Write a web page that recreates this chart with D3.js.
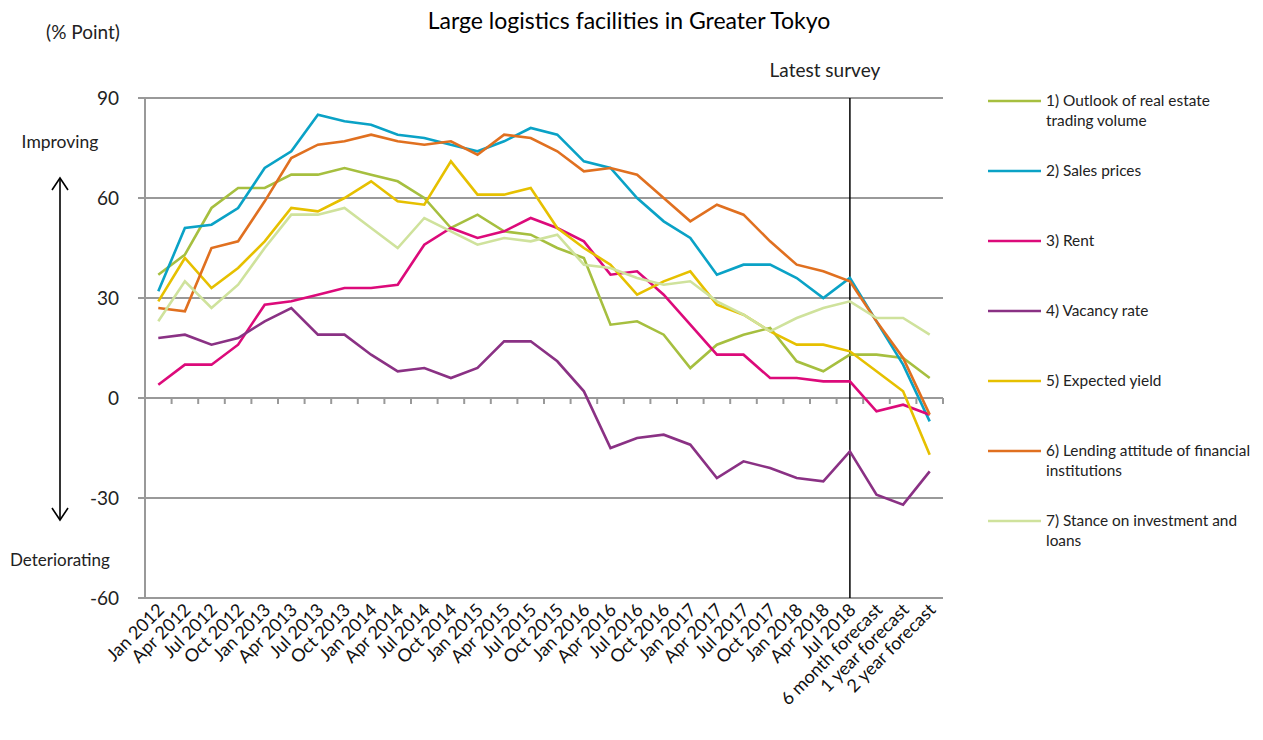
<!DOCTYPE html>
<html>
<head>
<meta charset="utf-8">
<script src="https://cdn.jsdelivr.net/npm/d3@7"></script>
<style>
  body { margin: 0; background: #fff; }
  svg { display: block; font-family: Lato, "Open Sans", sans-serif; }
</style>
</head>
<body>
<div id="chart"></div>
<script>
const categories = ["Jan 2012","Apr 2012","Jul 2012","Oct 2012","Jan 2013","Apr 2013","Jul 2013","Oct 2013",
  "Jan 2014","Apr 2014","Jul 2014","Oct 2014","Jan 2015","Apr 2015","Jul 2015","Oct 2015",
  "Jan 2016","Apr 2016","Jul 2016","Oct 2016","Jan 2017","Apr 2017","Jul 2017","Oct 2017",
  "Jan 2018","Apr 2018","Jul 2018","6 month forecast","1 year forecast","2 year forecast"];

const outlook  = [37,43,57,63,63,67,67,69,67,65,60,51,55,50,49,45,42,22,23,19,9,16,19,21,11,8,13,13,12,6];
const sales    = [32,51,52,57,69,74,85,83,82,79,78,76,74,77,81,79,71,69,60,53,48,37,40,40,36,30,36,23,10,-7];
const rent     = [4,10,10,16,28,29,31,33,33,34,46,51,48,50,54,51,47,37,38,31,22,13,13,6,6,5,5,-4,-2,-5];
const vacancy  = [18,19,16,18,23,27,19,19,13,8,9,6,9,17,17,11,2,-15,-12,-11,-14,-24,-19,-21,-24,-25,-16,-29,-32,-22];
const yieldExp = [29,42,33,39,47,57,56,60,65,59,58,71,61,61,63,51,45,40,31,35,38,28,25,20,16,16,14,8,2,-17];
const lending  = [27,26,45,47,59,72,76,77,79,77,76,77,73,79,78,74,68,69,67,60,53,58,55,47,40,38,35,23,12,-5];
const stance   = [23,35,27,34,45,55,55,57,51,45,54,50,46,48,47,49,40,39,36,34,35,29,25,20,24,27,29,24,24,19];

const seriesNames = [
  ["1) Outlook of real estate", "trading volume"],
  ["2) Sales prices"],
  ["3) Rent"],
  ["4) Vacancy rate"],
  ["5) Expected yield"],
  ["6) Lending attitude of financial", "institutions"],
  ["7) Stance on investment and", "loans"]
];
const yTicks = [90, 60, 30, 0, -30, -60];
const latestSurvey = "Jul 2018";

const colors = ["#a6bf3f", "#0aa2c6", "#dc0a7a", "#8a3184", "#e6c000", "#e07020", "#cfe29c"];
const allSeries = [outlook, sales, rent, vacancy, yieldExp, lending, stance];

const width = 1263, height = 740;
const margin = {left: 145, right: 320, top: 98, bottom: 142};

const svg = d3.select("#chart").append("svg")
  .attr("width", width)
  .attr("height", height);

const x = d3.scaleBand()
  .domain(categories)
  .range([margin.left, width - margin.right]);

const y = d3.scaleLinear()
  .domain([-60, 90])
  .range([height - margin.bottom, margin.top]);

const cx = d => x(d) + x.bandwidth() / 2;

// gridlines
svg.append("g")
  .selectAll("line")
  .data(yTicks)
  .join("line")
    .attr("x1", margin.left - 7)
    .attr("x2", width - margin.right)
    .attr("y1", d => y(d))
    .attr("y2", d => y(d))
    .attr("stroke", "#999")
    .attr("stroke-width", 2);

// left axis line
svg.append("line")
  .attr("x1", margin.left).attr("x2", margin.left)
  .attr("y1", y(90)).attr("y2", y(-60))
  .attr("stroke", "#999").attr("stroke-width", 2);

// category ticks on zero line
svg.append("g")
  .selectAll("line")
  .data(d3.range(1, categories.length + 1))
  .join("line")
    .attr("x1", i => margin.left + i * x.step())
    .attr("x2", i => margin.left + i * x.step())
    .attr("y1", y(0))
    .attr("y2", y(0) + 6)
    .attr("stroke", "#999")
    .attr("stroke-width", 2);

// y tick labels
svg.append("g")
  .selectAll("text")
  .data(yTicks)
  .join("text")
    .attr("x", 119)
    .attr("y", d => y(d))
    .attr("dy", "0.35em")
    .attr("text-anchor", "end")
    .attr("font-size", 19)
    .attr("fill", "#222")
    .text(d => d);

// x labels
svg.append("g")
  .selectAll("text")
  .data(categories)
  .join("text")
    .attr("text-anchor", "end")
    .attr("font-size", 18)
    .attr("fill", "#111")
    .attr("transform", d => `translate(${cx(d) + 7},${y(-60) + 13}) rotate(-45)`)
    .text(d => d);

// latest survey line
svg.append("line")
  .attr("x1", cx(latestSurvey)).attr("x2", cx(latestSurvey))
  .attr("y1", y(90)).attr("y2", y(-60))
  .attr("stroke", "#000").attr("stroke-width", 1.5);

svg.append("text")
  .attr("x", cx(latestSurvey) - 25)
  .attr("y", 77)
  .attr("text-anchor", "middle")
  .attr("font-size", 19)
  .attr("fill", "#222")
  .text("Latest survey");

// series lines
const line = d3.line()
  .x((d, i) => cx(categories[i]))
  .y(d => y(d));

svg.append("g")
  .selectAll("path")
  .data(allSeries)
  .join("path")
    .attr("d", line)
    .attr("fill", "none")
    .attr("stroke", (d, i) => colors[i])
    .attr("stroke-width", 2.6)
    .attr("stroke-linejoin", "miter");

// title and unit
svg.append("text")
  .attr("x", 629).attr("y", 29)
  .attr("text-anchor", "middle")
  .attr("font-size", 23)
  .attr("fill", "#000")
  .text("Large logistics facilities in Greater Tokyo");

svg.append("text")
  .attr("x", 83).attr("y", 39)
  .attr("text-anchor", "middle")
  .attr("font-size", 19)
  .attr("fill", "#222")
  .text("(% Point)");

// improving / deteriorating arrow
svg.append("text")
  .attr("x", 60).attr("y", 148)
  .attr("text-anchor", "middle")
  .attr("font-size", 17.5)
  .attr("fill", "#222")
  .text("Improving");

svg.append("text")
  .attr("x", 60).attr("y", 566)
  .attr("text-anchor", "middle")
  .attr("font-size", 17)
  .attr("fill", "#222")
  .text("Deteriorating");

const arrow = svg.append("g")
  .attr("stroke", "#000")
  .attr("stroke-width", 1.6)
  .attr("fill", "none");
arrow.append("line").attr("x1", 60).attr("x2", 60).attr("y1", 178).attr("y2", 520);
arrow.append("path").attr("d", "M52,190 L60,178 L68,190");
arrow.append("path").attr("d", "M52,508 L60,520 L68,508");

// legend
const legend = svg.append("g")
  .selectAll("g")
  .data(seriesNames)
  .join("g")
    .attr("transform", (d, i) => `translate(988,${101 + i * 70})`);

legend.append("line")
  .attr("x1", 0).attr("x2", 53)
  .attr("stroke", (d, i) => colors[i])
  .attr("stroke-width", 2.6);

legend.append("text")
  .attr("x", 58)
  .attr("font-size", 15.4)
  .attr("fill", "#222")
  .selectAll("tspan")
  .data(d => d)
  .join("tspan")
    .attr("x", 58)
    .attr("y", (d, i) => i * 20)
    .attr("dy", "0.35em")
    .text(d => d);
</script>
</body>
</html>
